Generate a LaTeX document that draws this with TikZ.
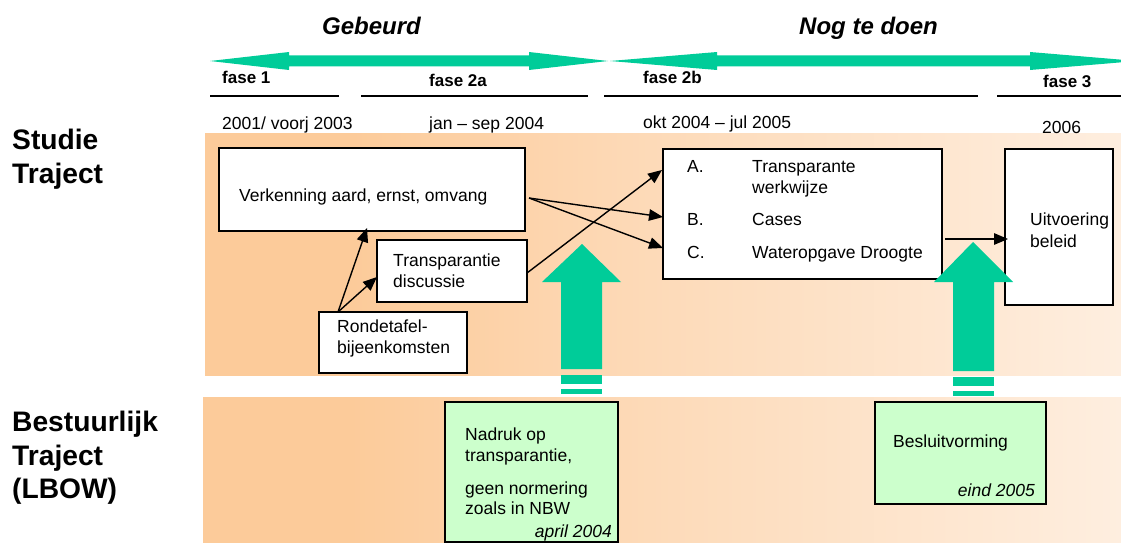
\documentclass[tikz,border=0pt]{standalone}
\usepackage{fontspec}
\setmainfont{Liberation Sans}
\usetikzlibrary{arrows.meta,calc}
\definecolor{grn}{HTML}{00CC99}
\definecolor{lgrn}{HTML}{CCFFCC}
\definecolor{bandA}{HTML}{FCCB9A}
\definecolor{bandB}{HTML}{FDD9B6}
\definecolor{bandC}{HTML}{FEEEDF}
\pgfdeclarehorizontalshading{bandshade}{100bp}{color(0bp)=(bandA); color(25bp)=(bandA); color(33bp)=(bandA); color(48bp)=(bandB); color(75bp)=(bandC); color(100bp)=(bandC)}
\begin{document}
\begin{tikzpicture}[x=1pt,y=-1pt,
  box/.style={draw=black, line width=1.4pt, fill=white, inner sep=0pt, outer sep=0pt, anchor=north west},
  gbox/.style={box, fill=lgrn},
  lbl/.style={anchor=base west, inner sep=0pt, font=\fontsize{17.5}{21}\selectfont},
  rlbl/.style={anchor=base east, inner sep=0pt, font=\fontsize{17.5}{21}\selectfont\itshape},
  fase/.style={anchor=base west, inner sep=0pt, font=\fontsize{17}{20}\selectfont\bfseries},
  title/.style={anchor=base west, inner sep=0pt, font=\fontsize{24}{28}\selectfont\bfseries\itshape},
  side/.style={anchor=base west, inner sep=0pt, font=\fontsize{28.2}{32}\selectfont\bfseries},
  conn/.style={line width=1.4pt, -{Triangle[length=14pt,width=11.5pt]}},
  phase/.style={line width=2pt}]
\useasboundingbox (0,0) rectangle (1121,543);
% bands
\shade[shading=bandshade] (205,133) rectangle (1121,375);
\shade[shading=bandshade] (203,397) rectangle (1121,543);
% top double arrows
\fill[grn] (210,61) -- (289,52) -- (289,55.5) -- (529,55.5) -- (529,52) -- (608,61) -- (529,70) -- (529,66.5) -- (289,66.5) -- (289,70) -- cycle;
\fill[grn] (610,61) -- (717,52) -- (717,55.5) -- (1030,55.5) -- (1030,52) -- (1137,61) -- (1030,70) -- (1030,66.5) -- (717,66.5) -- (717,70) -- cycle;
% titles
\node[title] (gebeurd) at (322,35) {Gebeurd};
\node[title] (nogtedoen) at (799,35) {Nog te doen};
% phases
\node[fase] (f1) at (222,84) {fase 1};
\node[fase] (f2a) at (429,86) {fase 2a};
\node[fase] (f2b) at (643,83) {fase 2b};
\node[fase] (f3) at (1043,88) {fase 3};
\draw[phase] (210,96) -- (339,96);
\draw[phase] (361,96) -- (588,96);
\draw[phase] (604,96) -- (978,96);
\draw[phase] (997,96) -- (1121,96);
\node[lbl] (d1) at (222,129) {2001/ voorj 2003};
\node[lbl] (d2a) at (429,129) {jan – sep 2004};
\node[lbl] (d2b) at (643,128) {okt 2004 – jul 2005};
\node[lbl] (d3) at (1042,133) {2006};
% side labels
\node[side] (s1) at (12,149) {Studie};
\node[side] (s2) at (12,183) {Traject};
\node[side] (b1) at (12,431) {Bestuurlijk};
\node[side] (b2) at (12,465) {Traject};
\node[side] (b3) at (12,498) {(LBOW)};
% boxes
\node[box, minimum width=306pt, minimum height=83pt] (verk) at (219,148) {};
\node[lbl] (verkT) at (239,201) {Verkenning aard, ernst, omvang};
\node[box, minimum width=150pt, minimum height=62pt] (trans) at (377,240) {};
\node[lbl] (transT1) at (393,266) {Transparantie};
\node[lbl] (transT2) at (393,287) {discussie};
\node[box, minimum width=148pt, minimum height=61pt] (rond) at (319,312) {};
\node[lbl] (rondT1) at (337,332) {Rondetafel-};
\node[lbl] (rondT2) at (337,353) {bijeenkomsten};
\node[box, minimum width=279pt, minimum height=130pt] (abc) at (663,149) {};
\node[lbl] (aL) at (687,172) {A.};
\node[lbl] (aT1) at (752,172) {Transparante};
\node[lbl] (aT2) at (752,193) {werkwijze};
\node[lbl] (bL) at (687,225) {B.};
\node[lbl] (bT) at (752,225) {Cases};
\node[lbl] (cL) at (687,258) {C.};
\node[lbl] (cT) at (752,258) {Wateropgave Droogte};
\node[box, minimum width=108pt, minimum height=156pt] (uit) at (1005,149) {};
\node[lbl] (uitT1) at (1030,225) {Uitvoering};
\node[lbl] (uitT2) at (1030,247) {beleid};
% connectors
\draw[conn] ($(rond.north west)+(19,0)$) -- ($(verk.south west)+(148,-3)$);
\draw[conn] ($(rond.north west)+(19,0)$) -- ($(trans.south west)+(0,-25)$);
\draw[conn] ($(verk.south east)+(4,-33)$) -- ($(abc.north west)+(0,68)$);
\draw[conn] ($(verk.south east)+(4,-33)$) -- ($(abc.north west)+(0,99)$);
\draw[conn] ($(trans.north east)+(0,33)$) -- ($(abc.north west)+(-1,21)$);
\draw[conn] ($(abc.south east)+(3,-40)$) -- ($(uit.north west)+(3,90)$);
% big green arrows
\fill[grn] (582,244) -- (621,282) -- (602,282) -- (602,369) -- (561,369) -- (561,282) -- (542,282) -- cycle;
\fill[grn] (561,375) rectangle (602,384);
\fill[grn] (561,389) rectangle (602,394);
\fill[grn] (973,242) -- (1013,282) -- (994,282) -- (994,371) -- (953,371) -- (953,282) -- (934,282) -- cycle;
\fill[grn] (953,377) rectangle (994,386);
\fill[grn] (953,391) rectangle (994,396);
% green boxes
\node[gbox, minimum width=173pt, minimum height=140pt] (nadruk) at (445,402) {};
\node[lbl] (n1) at (465,440) {Nadruk op};
\node[lbl] (n2) at (465,461) {transparantie,};
\node[lbl] (n3) at (465,494) {geen normering};
\node[lbl] (n4) at (465,514) {zoals in NBW};
\node[rlbl] (n5) at (612,537) {april 2004};
\node[gbox, minimum width=171pt, minimum height=102pt] (besl) at (875,402) {};
\node[lbl] (be1) at (893,447) {Besluitvorming};
\node[rlbl] (be2) at (1035,496) {eind 2005};
\end{tikzpicture}
\end{document}
